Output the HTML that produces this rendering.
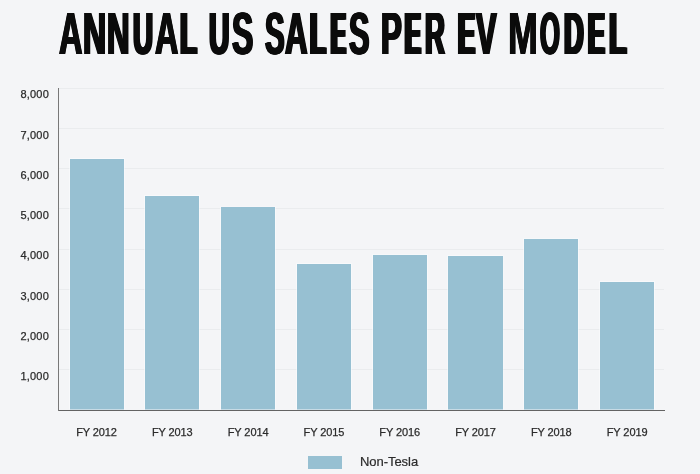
<!DOCTYPE html>
<html><head><meta charset="utf-8"><title>Annual US Sales per EV Model</title>
<style>
html,body{margin:0;padding:0;}
body{width:700px;height:474px;background:#f4f5f7;overflow:hidden;position:relative;font-family:"Liberation Sans",sans-serif;color:#333;}
#title{position:absolute;left:58.9px;top:-0.7px;margin:0;height:70px;line-height:70px;white-space:nowrap;font-weight:bold;font-size:59.6px;color:#0b0b0b;}
#title .c{display:inline-block;height:70px;vertical-align:top;}
#title .c span{display:inline-block;transform-origin:0 0;}
#title .sp{display:inline-block;width:0;white-space:pre;}
.grid{position:absolute;left:59px;width:605px;height:1px;background:#eaecee;}
.yl{position:absolute;left:0;width:49px;text-align:right;font-size:11px;line-height:12px;color:#2b2b2b;letter-spacing:0.2px;-webkit-text-stroke:0.25px #2b2b2b;}
.bar{position:absolute;width:54.4px;background:#97c0d2;box-shadow:0 0 0 1px rgba(252,254,255,0.5);clip-path:inset(-1px -1px 0.4px -1px);}
#yaxis{position:absolute;left:58.2px;top:88px;width:1px;height:322.5px;background:#787878;}
#xaxis{position:absolute;left:58.2px;top:409.6px;width:607px;height:1px;background:#636363;}
.xl{position:absolute;top:426px;width:76px;text-align:center;font-size:11px;line-height:13px;color:#2b2b2b;letter-spacing:-0.1px;-webkit-text-stroke:0.25px #2b2b2b;}
#sw{position:absolute;left:308px;top:455.5px;width:33.5px;height:13.5px;background:#97c0d2;}
#lg{position:absolute;left:360px;top:454.4px;font-size:13px;line-height:16px;color:#2b2b2b;letter-spacing:-0.05px;-webkit-text-stroke:0.2px #2b2b2b;}
</style></head><body>
<h1 id="title"><span class="c" style="width:25.1px"><span style="margin-left:0.06px;transform:scaleX(0.5445);text-shadow:1.59px 0 0 #0b0b0b,-1.59px 0 0 #0b0b0b,0.79px 0 0 #0b0b0b,-0.79px 0 0 #0b0b0b">A</span></span><span class="c" style="width:24.6px"><span style="margin-left:-1.22px;transform:scaleX(0.5382);text-shadow:1.71px 0 0 #0b0b0b,-1.71px 0 0 #0b0b0b,0.86px 0 0 #0b0b0b,-0.86px 0 0 #0b0b0b">N</span></span><span class="c" style="width:24.7px"><span style="margin-left:-1.12px;transform:scaleX(0.5241);text-shadow:1.85px 0 0 #0b0b0b,-1.85px 0 0 #0b0b0b,0.92px 0 0 #0b0b0b,-0.92px 0 0 #0b0b0b">N</span></span><span class="c" style="width:21.3px"><span style="margin-left:-0.40px;transform:scaleX(0.4654);text-shadow:2.72px 0 0 #0b0b0b,-2.72px 0 0 #0b0b0b,1.36px 0 0 #0b0b0b,-1.36px 0 0 #0b0b0b">U</span></span><span class="c" style="width:25.7px"><span style="margin-left:0.07px;transform:scaleX(0.5416);text-shadow:1.61px 0 0 #0b0b0b,-1.61px 0 0 #0b0b0b,0.81px 0 0 #0b0b0b,-0.81px 0 0 #0b0b0b">A</span></span><span class="c" style="width:29.5px"><span style="margin-left:-0.28px;transform:scaleX(0.4682);text-shadow:3.40px 0 0 #0b0b0b,-3.40px 0 0 #0b0b0b,1.70px 0 0 #0b0b0b,-1.70px 0 0 #0b0b0b">L</span></span><span class="sp"> </span><span class="c" style="width:21.8px"><span style="margin-left:-0.48px;transform:scaleX(0.4759);text-shadow:2.58px 0 0 #0b0b0b,-2.58px 0 0 #0b0b0b,1.29px 0 0 #0b0b0b,-1.29px 0 0 #0b0b0b">U</span></span><span class="c" style="width:33.0px"><span style="margin-left:-0.01px;transform:scaleX(0.5344);text-shadow:1.70px 0 0 #0b0b0b,-1.70px 0 0 #0b0b0b,0.85px 0 0 #0b0b0b,-0.85px 0 0 #0b0b0b">S</span></span><span class="sp"> </span><span class="c" style="width:20.3px"><span style="margin-left:0.19px;transform:scaleX(0.4934);text-shadow:2.11px 0 0 #0b0b0b,-2.11px 0 0 #0b0b0b,1.06px 0 0 #0b0b0b,-1.06px 0 0 #0b0b0b">S</span></span><span class="c" style="width:25.4px"><span style="margin-left:0.15px;transform:scaleX(0.5238);text-shadow:1.77px 0 0 #0b0b0b,-1.77px 0 0 #0b0b0b,0.89px 0 0 #0b0b0b,-0.89px 0 0 #0b0b0b">A</span></span><span class="c" style="width:20.5px"><span style="margin-left:-0.01px;transform:scaleX(0.4363);text-shadow:3.96px 0 0 #0b0b0b,-3.96px 0 0 #0b0b0b,1.98px 0 0 #0b0b0b,-1.98px 0 0 #0b0b0b">L</span></span><span class="c" style="width:18.4px"><span style="margin-left:0.57px;transform:scaleX(0.3662);text-shadow:5.54px 0 0 #0b0b0b,-5.54px 0 0 #0b0b0b,2.77px 0 0 #0b0b0b,-2.77px 0 0 #0b0b0b">E</span></span><span class="c" style="width:32.9px"><span style="margin-left:0.09px;transform:scaleX(0.5139);text-shadow:1.90px 0 0 #0b0b0b,-1.90px 0 0 #0b0b0b,0.95px 0 0 #0b0b0b,-0.95px 0 0 #0b0b0b">S</span></span><span class="sp"> </span><span class="c" style="width:22.6px"><span style="margin-left:-0.97px;transform:scaleX(0.5239);text-shadow:2.13px 0 0 #0b0b0b,-2.13px 0 0 #0b0b0b,1.06px 0 0 #0b0b0b,-1.06px 0 0 #0b0b0b">P</span></span><span class="c" style="width:20.7px"><span style="margin-left:0.37px;transform:scaleX(0.3903);text-shadow:4.93px 0 0 #0b0b0b,-4.93px 0 0 #0b0b0b,2.47px 0 0 #0b0b0b,-2.47px 0 0 #0b0b0b">E</span></span><span class="c" style="width:32.3px"><span style="margin-left:-0.50px;transform:scaleX(0.4606);text-shadow:2.90px 0 0 #0b0b0b,-2.90px 0 0 #0b0b0b,1.45px 0 0 #0b0b0b,-1.45px 0 0 #0b0b0b">R</span></span><span class="sp"> </span><span class="c" style="width:18.1px"><span style="margin-left:0.07px;transform:scaleX(0.4265);text-shadow:4.15px 0 0 #0b0b0b,-4.15px 0 0 #0b0b0b,2.07px 0 0 #0b0b0b,-2.07px 0 0 #0b0b0b">E</span></span><span class="c" style="width:34.6px"><span style="margin-left:0.74px;transform:scaleX(0.5189);text-shadow:1.82px 0 0 #0b0b0b,-1.82px 0 0 #0b0b0b,0.91px 0 0 #0b0b0b,-0.91px 0 0 #0b0b0b">V</span></span><span class="sp"> </span><span class="c" style="width:30.1px"><span style="margin-left:-1.80px;transform:scaleX(0.6002);text-shadow:0.99px 0 0 #0b0b0b,-0.99px 0 0 #0b0b0b,0.49px 0 0 #0b0b0b,-0.49px 0 0 #0b0b0b">M</span></span><span class="c" style="width:23.9px"><span style="margin-left:0.03px;transform:scaleX(0.4287);text-shadow:2.51px 0 0 #0b0b0b,-2.51px 0 0 #0b0b0b,1.25px 0 0 #0b0b0b,-1.25px 0 0 #0b0b0b">O</span></span><span class="c" style="width:23.8px"><span style="margin-left:-0.43px;transform:scaleX(0.4575);text-shadow:3.04px 0 0 #0b0b0b,-3.04px 0 0 #0b0b0b,1.52px 0 0 #0b0b0b,-1.52px 0 0 #0b0b0b">D</span></span><span class="c" style="width:21.0px"><span style="margin-left:0.14px;transform:scaleX(0.4185);text-shadow:4.31px 0 0 #0b0b0b,-4.31px 0 0 #0b0b0b,2.16px 0 0 #0b0b0b,-2.16px 0 0 #0b0b0b">E</span></span><span class="c" style="width:17.9px"><span style="margin-left:-0.43px;transform:scaleX(0.4863);text-shadow:3.11px 0 0 #0b0b0b,-3.11px 0 0 #0b0b0b,1.55px 0 0 #0b0b0b,-1.55px 0 0 #0b0b0b">L</span></span></h1>

<div class="grid" style="top:87.5px"></div>
<div class="grid" style="top:127.7px"></div>
<div class="grid" style="top:168px"></div>
<div class="grid" style="top:208.2px"></div>
<div class="grid" style="top:248.5px"></div>
<div class="grid" style="top:288.7px"></div>
<div class="grid" style="top:329px"></div>
<div class="grid" style="top:369.2px"></div>

<div class="yl" style="top:88.2px">8,000</div>
<div class="yl" style="top:128.7px">7,000</div>
<div class="yl" style="top:169.2px">6,000</div>
<div class="yl" style="top:209.2px">5,000</div>
<div class="yl" style="top:249.2px">4,000</div>
<div class="yl" style="top:290.2px">3,000</div>
<div class="yl" style="top:330.2px">2,000</div>
<div class="yl" style="top:370.2px">1,000</div>

<div id="xaxis"></div>
<div class="bar" style="left:69.5px;top:158.6px;height:251.4px"></div>
<div class="bar" style="left:145px;top:195.7px;height:214.3px"></div>
<div class="bar" style="left:221px;top:207.4px;height:202.6px"></div>
<div class="bar" style="left:296.6px;top:264.1px;height:145.9px"></div>
<div class="bar" style="left:372.6px;top:255.3px;height:154.7px"></div>
<div class="bar" style="left:448.2px;top:255.7px;height:154.3px"></div>
<div class="bar" style="left:524px;top:239.2px;height:170.8px"></div>
<div class="bar" style="left:599.8px;top:281.5px;height:128.5px"></div>

<div id="yaxis"></div>
<div class="xl" style="left:58.5px">FY 2012</div>
<div class="xl" style="left:134.3px">FY 2013</div>
<div class="xl" style="left:210.1px">FY 2014</div>
<div class="xl" style="left:285.9px">FY 2015</div>
<div class="xl" style="left:361.7px">FY 2016</div>
<div class="xl" style="left:437.5px">FY 2017</div>
<div class="xl" style="left:513.3px">FY 2018</div>
<div class="xl" style="left:589.1px">FY 2019</div>

<div id="sw"></div>
<div id="lg">Non-Tesla</div>
</body></html>
